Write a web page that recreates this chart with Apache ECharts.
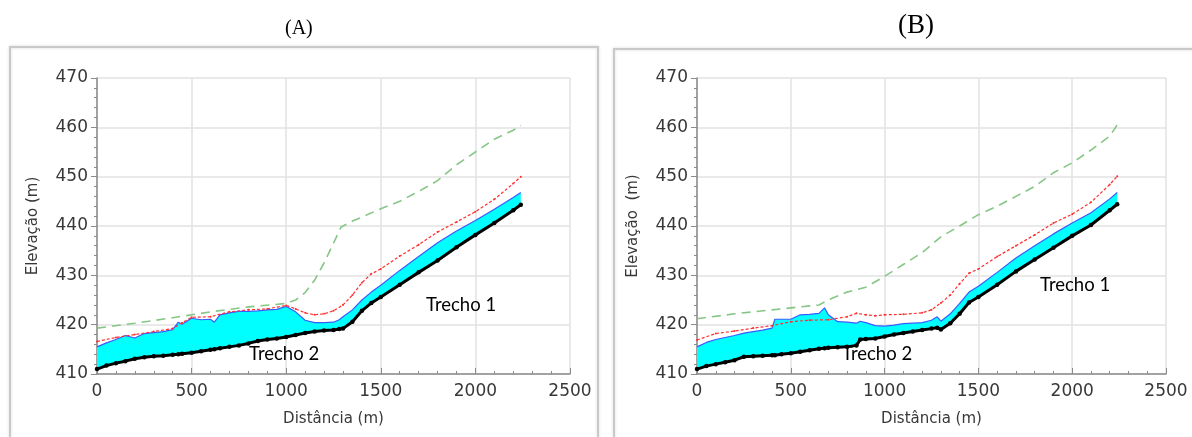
<!DOCTYPE html>
<html><head><meta charset="utf-8">
<script src="https://cdn.jsdelivr.net/npm/echarts@6/dist/echarts.min.js"></script>
<style>html,body{margin:0;padding:0;background:#fff}#c{width:1192px;height:437px}</style>
</head><body><div id="c"></div>
<script>
// ---------- axis ticks ----------
const yTicks = [410, 420, 430, 440, 450, 460, 470];
const xTicks = [0, 500, 1000, 1500, 2000, 2500];

// ---------- Panel A ----------
const distA = [0,50,100,150,200,250,300,350,400,430,450,500,550,600,620,650,700,750,800,850,900,950,1000,1050,1100,1150,1200,1250,1280,1300,1350,1400,1450,1500,1600,1700,1800,1900,2000,2100,2200,2240];
const bedA  = [411.0,411.7,412.2,412.6,413.1,413.4,413.6,413.7,413.9,414.0,414.1,414.3,414.6,414.9,415.0,415.2,415.5,415.8,416.2,416.7,417.0,417.2,417.5,417.9,418.3,418.6,418.8,418.9,419.1,419.2,420.6,422.8,424.4,425.6,428.1,430.6,433.0,435.7,438.2,440.6,443.2,444.3];
const surfA = [415.5,416.3,417.0,417.8,417.3,418.2,418.4,418.6,419.0,420.5,420.1,421.3,421.0,421.1,420.5,422.0,422.4,422.7,422.7,422.8,423.0,423.1,423.7,422.6,420.9,420.4,420.4,420.5,421.0,421.6,423.0,425.0,426.6,428.0,431.0,433.8,436.6,439.0,441.1,443.4,445.8,446.8];
const redDistA = [0,100,200,300,400,450,500,600,700,800,900,1000,1050,1100,1150,1200,1250,1300,1350,1400,1450,1500,1600,1700,1800,1900,2000,2100,2200,2240];
const redA     = [416.6,417.4,418.0,418.6,419.2,420.4,421.5,421.6,422.6,423.0,423.2,423.9,423.2,422.4,422.0,422.2,422.8,424.0,426.0,428.5,430.3,431.3,433.9,436.2,438.8,440.8,442.9,445.4,448.6,450.0];
const greenDistA = [0,200,400,600,800,1000,1050,1100,1150,1200,1250,1290,1350,1400,1500,1600,1700,1800,1900,2000,2100,2200,2240];
const greenA     = [419.3,420.3,421.4,422.6,423.6,424.3,425.0,426.5,429.0,432.5,436.5,439.8,441.0,441.8,443.5,445.0,447.0,449.2,452.4,455.0,457.6,459.4,460.4];

// ---------- Panel B ----------
const distB = [0,50,100,150,200,250,300,350,400,415,450,500,550,600,650,680,700,750,800,850,870,900,950,1000,1050,1100,1150,1200,1250,1280,1300,1350,1400,1450,1500,1600,1700,1800,1900,2000,2100,2200,2240];
const bedB  = [411.0,411.6,412.0,412.4,412.8,413.5,413.6,413.7,413.8,413.8,414.0,414.2,414.5,414.8,415.1,415.2,415.3,415.4,415.5,415.8,417.0,417.1,417.2,417.6,418.0,418.3,418.6,418.9,419.2,419.4,419.0,420.3,422.2,424.5,425.6,428.1,430.8,433.2,435.6,438.0,440.2,443.2,444.4];
const surfB = [415.5,416.4,417.0,417.4,417.8,418.3,418.6,418.9,419.3,421.1,421.1,421.1,422.0,422.1,422.3,423.4,422.0,420.6,420.5,420.3,420.7,420.4,419.8,419.7,419.9,420.2,420.3,420.4,420.9,421.6,420.7,422.2,424.3,426.6,427.8,430.6,433.5,436.0,438.4,440.6,442.7,445.5,446.8];
const redDistB = [0,100,200,300,400,500,600,700,800,850,900,950,1000,1100,1200,1250,1300,1350,1400,1450,1500,1600,1700,1800,1900,2000,2100,2200,2240];
const redB     = [416.9,418.2,418.7,419.3,419.8,420.6,420.9,421.0,421.6,422.3,422.0,421.8,422.0,422.1,422.4,423.0,424.4,426.0,428.3,430.4,431.3,433.8,436.0,438.2,440.6,442.4,444.8,448.4,450.1];
const greenDistB = [0,200,400,600,650,700,800,900,1000,1100,1200,1300,1400,1500,1600,1700,1800,1900,2000,2100,2200,2240];
const greenB     = [421.2,422.2,423.0,423.8,424.0,425.0,426.6,427.6,429.8,432.2,434.6,437.8,440.0,442.3,444.0,446.0,448.0,450.8,452.8,455.4,458.2,460.5];

const pairs = (xs, ys) => xs.map((x, i) => [x, ys[i]]);

const labelFont = 'DejaVu Sans';
const txt = '#383838';
const axisCol = '#8a8a8a';
function makeX(idx) {
  return {
    type: 'value', gridIndex: idx, min: xTicks[0], max: xTicks[xTicks.length - 1], interval: 500,
    name: 'Distância (m)', nameLocation: 'middle', nameGap: 38,
    nameTextStyle: { fontFamily: labelFont, fontSize: 15, color: txt },
    axisLine: { show: true, lineStyle: { color: axisCol, width: 1.5 } },
    axisTick: { show: true, inside: true, length: 6, lineStyle: { color: axisCol } },
    minorTick: { show: true, splitNumber: 5, length: 3, lineStyle: { color: axisCol } },
    axisLabel: { fontFamily: labelFont, fontSize: 17, color: txt, margin: 9, formatter: v => String(v) },
    splitLine: { show: true, lineStyle: { color: '#e2e2e2', width: 1.5 } }
  };
}
function makeY(idx, name) {
  return {
    type: 'value', gridIndex: idx, min: yTicks[0], max: yTicks[yTicks.length - 1], interval: 10,
    name: name, nameLocation: 'middle', nameGap: 56,
    nameTextStyle: { fontFamily: labelFont, fontSize: 15, color: txt },
    axisLine: { show: true, lineStyle: { color: axisCol, width: 1.5 } },
    axisTick: { show: true, length: 6, lineStyle: { color: axisCol } },
    minorTick: { show: true, splitNumber: 5, length: 3, lineStyle: { color: axisCol } },
    axisLabel: { fontFamily: labelFont, fontSize: 17, color: txt, margin: 9, formatter: v => String(v) },
    splitLine: { show: true, lineStyle: { color: '#e2e2e2', width: 1.5 } }
  };
}
function panelSeries(idx, dist, bed, surf, rd, r, gd, g) {
  return [
    { type: 'line', xAxisIndex: idx, yAxisIndex: idx, data: pairs(gd, g), showSymbol: false, z: 2,
      lineStyle: { color: '#86c686', width: 1.6, type: [9, 6] } },
    { // water body: polygon between bed and water surface, placed with the axes' scales
      type: 'custom', xAxisIndex: idx, yAxisIndex: idx, z: 3, clip: true,
      data: [[dist[0], bed[0]]],
      renderItem: (params, api) => {
        const top = dist.map((x, i) => api.coord([x, surf[i]]));
        const bot = dist.map((x, i) => api.coord([x, bed[i]])).reverse();
        return { type: 'polygon', shape: { points: top.concat(bot) },
                 style: { fill: '#00ffff', stroke: null } };
      }
    },
    { type: 'line', xAxisIndex: idx, yAxisIndex: idx, data: pairs(dist, surf), z: 4, showSymbol: false,
      lineStyle: { color: '#3a5cff', width: 1.2 } },
    { type: 'line', xAxisIndex: idx, yAxisIndex: idx, data: pairs(rd, r), z: 5,
      symbol: 'circle', symbolSize: 2, showAllSymbol: true, itemStyle: { color: '#ff3030' },
      lineStyle: { color: '#ff3030', width: 1.2, type: [3, 2] } },
    { type: 'line', xAxisIndex: idx, yAxisIndex: idx, data: pairs(dist, bed), z: 6,
      symbol: 'circle', symbolSize: 4.5, showAllSymbol: true,
      itemStyle: { color: '#000' }, lineStyle: { color: '#000', width: 3 } }
  ];
}

const chart = echarts.init(document.getElementById('c'), null, { renderer: 'canvas' });
chart.setOption({
  animation: false,
  backgroundColor: '#fff',
  grid: [
    { left: 97, right: 622, top: 78, bottom: 63 },
    { left: 697, right: 26, top: 78, bottom: 63 }
  ],
  xAxis: [makeX(0), makeX(1)],
  yAxis: [makeY(0, 'Elevação (m)'), makeY(1, 'Elevação  (m)')],
  series: [
    ...panelSeries(0, distA, bedA, surfA, redDistA, redA, greenDistA, greenA),
    ...panelSeries(1, distB, bedB, surfB, redDistB, redB, greenDistB, greenB)
  ],
  graphic: [
    { type: 'rect', shape: { x: 10, y: 47, width: 588, height: 420 }, z: -10,
      style: { fill: 'none', stroke: '#c9c9c9', lineWidth: 2, shadowBlur: 3, shadowColor: 'rgba(0,0,0,0.15)' } },
    { type: 'rect', shape: { x: 614, y: 49, width: 600, height: 420 }, z: -10,
      style: { fill: 'none', stroke: '#c9c9c9', lineWidth: 2, shadowBlur: 3, shadowColor: 'rgba(0,0,0,0.15)' } },
    { type: 'text', left: 285, top: 19, style: { text: '(A)', font: '20px "Liberation Serif"', fill: '#000' } },
    { type: 'text', left: 898, top: 12, style: { text: '(B)', font: '27px "Liberation Serif"', fill: '#000' } },
    { type: 'text', left: 426, top: 296, style: { text: 'Trecho 1', font: '18.5px Lato', fill: '#000' }, z: 10 },
    { type: 'text', left: 249, top: 345, style: { text: 'Trecho 2', font: '18.5px Lato', fill: '#000' }, z: 10 },
    { type: 'text', left: 1040, top: 276, style: { text: 'Trecho 1', font: '18.5px Lato', fill: '#000' }, z: 10 },
    { type: 'text', left: 842, top: 345, style: { text: 'Trecho 2', font: '18.5px Lato', fill: '#000' }, z: 10 }
  ]
});
</script></body></html>
